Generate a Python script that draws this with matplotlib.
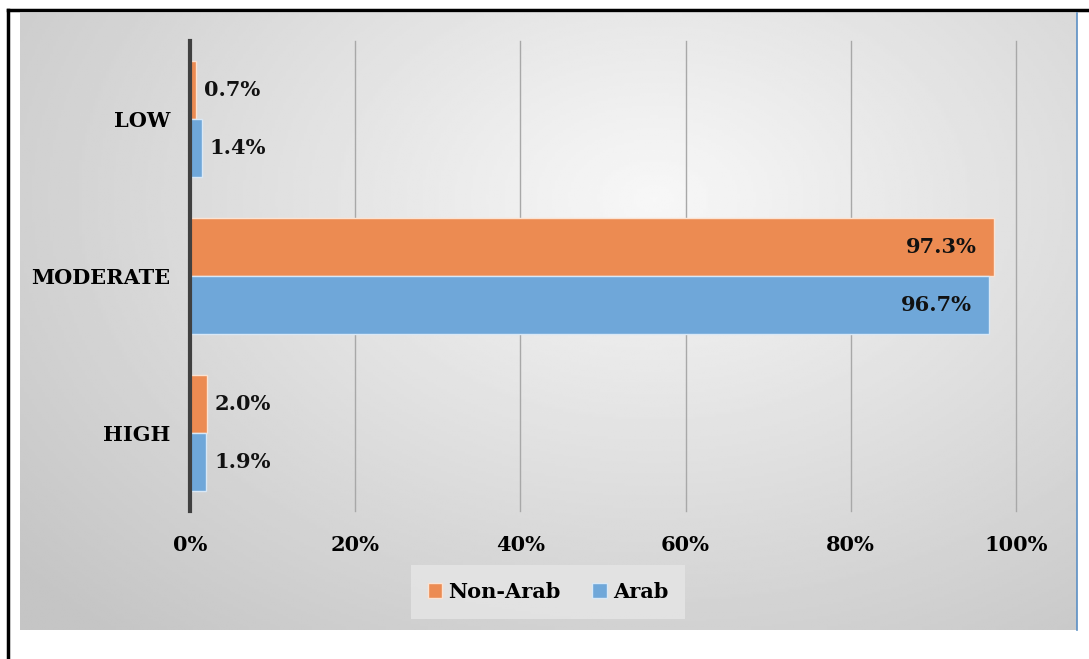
import numpy as np
import matplotlib.pyplot as plt
from matplotlib.lines import Line2D

# data
categories = ["HIGH", "MODERATE", "LOW"]
non_arab = [2.0, 97.3, 0.7]
arab = [1.9, 96.7, 1.4]
ticks = [0, 20, 40, 60, 80, 100]

orange = "#EC8B52"
blue = "#6FA7D9"

plt.rcParams['font.family'] = ['DejaVu Serif']
plt.rcParams['font.weight'] = 'bold'

W, H = 1089, 659
fig = plt.figure(figsize=(W / 100, H / 100), dpi=100)
fig.patch.set_facecolor("white")

# gray panel with radial gradient
px0, py0, px1, py1 = 20, 13, 1077, 630
bg = fig.add_axes([px0 / W, 1 - py1 / H, (px1 - px0) / W, (py1 - py0) / H], zorder=0)
gx, gy = np.meshgrid(np.linspace(0, 1, 400), np.linspace(0, 1, 250))
r = np.sqrt(((gx - 0.6) / 0.75) ** 2 + ((gy - 0.3) / 0.9) ** 2)
img = np.clip(0.97 - 0.19 * r, 0.77, 0.97)
bg.imshow(img, cmap="gray", vmin=0, vmax=1, aspect="auto", extent=[0, 1, 1, 0])
bg.set_axis_off()

# outer black frame (left and top visible)
fig.add_artist(Line2D([8 / W, 8 / W], [0, 1 - 10 / H], color="black", lw=2.5, transform=fig.transFigure))
fig.add_artist(Line2D([8 / W, 1], [1 - 10 / H, 1 - 10 / H], color="black", lw=2.5, transform=fig.transFigure))
fig.add_artist(Line2D([px1 / W, px1 / W], [1 - py1 / H, 1 - py0 / H], color="#5b8fc4", lw=1.2, transform=fig.transFigure))

ax = fig.add_axes([190 / W, 148 / H, 826 / W, 470 / H], zorder=1)
ax.set_facecolor("none")

y = np.arange(len(categories))
h = 0.37
ax.barh(y + h / 2, non_arab, height=h, color=orange, edgecolor="#fbe3d3", lw=1, label="Non-Arab", zorder=3)
ax.barh(y - h / 2, arab, height=h, color=blue, edgecolor="#d9e8f6", lw=1, label="Arab", zorder=3)

for vals, off in [(non_arab, h / 2), (arab, -h / 2)]:
    for i, v in enumerate(vals):
        if v > 50:
            ax.text(v - 2.0, i + off, f"{v:.1f}%", ha="right", va="center",
                    fontsize=15, fontweight="bold", color="#111111", zorder=4)
        else:
            ax.text(v + 1.0, i + off, f"{v:.1f}%", ha="left", va="center",
                    fontsize=15, fontweight="bold", color="#111111", zorder=4)

ax.set_xlim(0, 100)
ax.set_ylim(-0.5, 2.5)
ax.set_xticks(ticks)
ax.set_xticklabels([f"{t}%" for t in ticks], fontsize=15, fontweight="bold")
ax.set_yticks(y)
ax.set_yticklabels(categories, fontsize=15, fontweight="bold")
ax.tick_params(axis="both", length=0)
ax.tick_params(axis="x", pad=17)
ax.tick_params(axis="y", pad=14)
ax.grid(axis="x", color="#a8a8a8", lw=1, zorder=1)
for line in ax.get_xgridlines():
    line.set_clip_on(False)
for s in ["top", "right", "bottom"]:
    ax.spines[s].set_visible(False)
ax.spines["left"].set_color("#404040")
ax.spines["left"].set_linewidth(3)
ax.spines["left"].set_zorder(5)

leg = fig.legend(loc="center", bbox_to_anchor=(548 / W, 1 - 592 / H), ncol=2,
                 frameon=True, fontsize=15, handlelength=0.7, handleheight=0.7,
                 handletextpad=0.3, columnspacing=1.5, borderpad=0.5)
leg.get_frame().set_facecolor("#e6e6e6")
leg.get_frame().set_edgecolor("none")
leg.get_frame().set_boxstyle("square")
for t in leg.get_texts():
    t.set_fontweight("bold")

fig.savefig("out.png", dpi=100)
